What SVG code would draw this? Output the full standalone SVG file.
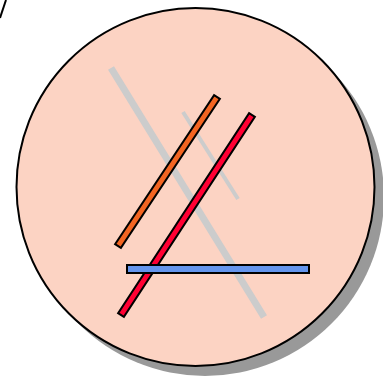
<svg xmlns="http://www.w3.org/2000/svg" width="383" height="379" viewBox="0 0 383 379">
<style>
.bar{stroke:#000;stroke-width:2;stroke-linejoin:miter}
.gray{stroke:#cccccc;stroke-linecap:butt}
</style>
<rect width="383" height="379" fill="#fff"/>
<path d="M0,18 L6,0" fill="none" stroke="#000" stroke-width="2"/>
<g id="circle">
<circle cx="205" cy="197" r="179" fill="#999999"/>
<circle cx="195.5" cy="187" r="179" fill="#fcd3c3" stroke="#000" stroke-width="2"/>
</g>
<g id="connectors">
<line class="gray" x1="111" y1="68" x2="264" y2="317" stroke-width="7"/>
<line class="gray" x1="183" y1="112" x2="238" y2="199" stroke-width="4"/>
</g>
<g id="orange"><polygon class="bar" fill="#f26522" points="219.9,98.9 214.1,95.1 115.1,244.1 120.9,247.9"/></g>
<g id="red"><polygon class="bar" fill="#ff0033" points="254.9,116.9 249.1,113.1 118.1,313.1 123.9,316.9"/></g>
<g id="blue"><rect class="bar" fill="#6495ed" x="127" y="265" width="182" height="8"/></g>
</svg>
